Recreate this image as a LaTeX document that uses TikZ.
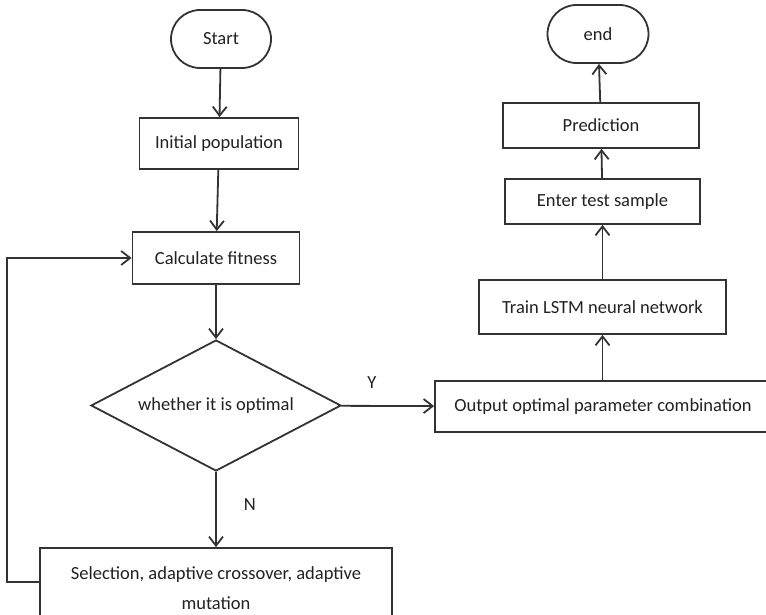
\documentclass[tikz,border=0pt]{standalone}
\usepackage{fontspec}
\setmainfont{Carlito}
\usepackage{tikz}
\usetikzlibrary{arrows.meta,positioning,calc,shapes.geometric}
\definecolor{inkline}{HTML}{333333}
\definecolor{inktext}{HTML}{222222}

\begin{document}
\begin{tikzpicture}[
    x=1pt, y=-1pt,
    font=\fontsize{18.5}{30}\selectfont,
    box/.style={draw=inkline, line width=1.8pt, align=center, inner sep=2pt,
                text=inktext, fill=white},
    term/.style={box, rounded corners=29pt, minimum width=100pt, minimum height=58pt},
    proc/.style={box, minimum height=51pt},
    cond/.style={box, diamond, shape aspect=1.9, inner sep=0pt,
                 minimum width=250pt, minimum height=131pt},
    flow/.style={-{Straight Barb[length=9pt,width=14pt,line width=1.8pt]},
                 line width=1.8pt, draw=inkline},
    lbl/.style={text=inktext, inner sep=1pt},
  ]
  \useasboundingbox (0,0) rectangle (766,615);
  % left column: search loop
  \node[term] (start) at (221,39) {Start};
  \node[proc, minimum width=159pt] (init) at (219,143.5) {Initial population};
  \node[proc, minimum width=167pt, minimum height=52pt] (fit) at (216,258) {Calculate fitness};
  \node[cond] (opt) at (216,405.5) {whether it is optimal};
  \node[proc, minimum width=352pt, minimum height=80pt] (sel) at (216,588)
        {Selection, adaptive crossover, adaptive\\mutation};

  % right column: training and prediction
  \node[proc, minimum width=336pt] (out) at (603,406.5) {Output optimal parameter combination};
  \node[proc, minimum width=247pt, minimum height=54pt] (lstm) at (602.5,307) {Train LSTM neural network};
  \node[proc, minimum width=195pt, minimum height=45pt] (test) at (602.5,201.5) {Enter test sample};
  \node[proc, minimum width=196pt, minimum height=45pt] (pred) at (601,125.5) {Prediction};
  \node[term, minimum width=101pt] (end) at (598,34) {end};

  % forward flow
  \draw[flow] (start) -- (init);
  \draw[flow] (init) -- (fit);
  \draw[flow] (fit) -- (opt);
  \draw[flow] (opt) -- node[lbl, pos=0.44, right=26pt] {N} (sel);
  \draw[flow] (opt) -- node[lbl, above=16pt, pos=0.33] {Y} (out);
  \draw[flow] (out.north -| lstm) -- (lstm);
  \draw[flow] (lstm) -- (test);
  \draw[flow] (test) -- (pred);
  \draw[flow] (pred) -- (end);

  % back to fitness
  \coordinate (turn) at (7,582);
  \draw[flow] (sel.west |- turn) -- (turn) |- (fit.west);
\end{tikzpicture}
\end{document}
